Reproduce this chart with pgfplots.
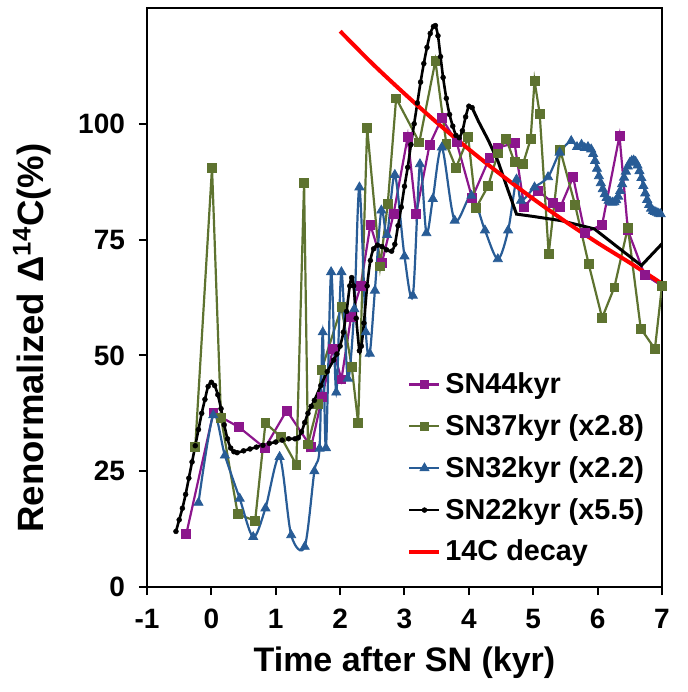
\documentclass[border=0pt]{standalone}
\usepackage{fontspec}
\setmainfont{Liberation Sans}
\usepackage{pgfplots}
\pgfplotsset{compat=1.18}
\definecolor{cpur}{RGB}{140,22,140}
\definecolor{cgrn}{RGB}{94,115,48}
\definecolor{cblu}{RGB}{40,92,150}
\begin{document}
\begin{tikzpicture}
\begin{axis}[
 scale only axis, width=257.5pt, height=289.5pt,
 xmin=-1, xmax=7, ymin=0, ymax=125,
 xtick={-1,0,1,2,3,4,5,6,7}, ytick={0,25,50,75,100},
 tick align=outside, tick pos=left,
 major tick length=4pt,
 axis line style={line width=1pt},
 every tick/.style={black, line width=1pt},
 /pgf/number format/assume math mode=true,
 ticklabel style={font=\bfseries\fontsize{14}{14}\selectfont},
 xticklabel style={yshift=-3.5pt},
 yticklabel style={xshift=-3.5pt},
 xlabel={Time after SN (kyr)},
 ylabel={Renormalized Δ\textsuperscript{14}C(\%)},
 every axis x label/.style={at={(axis description cs:0.5,-0.13)},anchor=center,font=\bfseries\fontsize{17}{17}\selectfont},
 every axis y label/.style={at={(axis description cs:-0.2233,0.43)},rotate=90,anchor=center,font=\bfseries\fontsize{18.3}{18.3}\selectfont},
 legend style={at={(axis description cs:0.505,0.378)}, anchor=north west, draw=none, fill=none,
   font=\bfseries\fontsize{14.4}{17}\selectfont, nodes={font=\bfseries\fontsize{14.4}{17}\selectfont}, row sep=5pt, inner sep=0pt},
 legend cell align=left,
 legend image code/.code={\draw[mark repeat=2,mark phase=2,#1] plot coordinates {(0pt,0pt) (7.5pt,0pt) (15pt,0pt)};},
]
% SN44kyr
\addplot[cpur, line width=1.1pt, mark=square*, mark size=2.2pt, mark options={solid,fill=cpur,line width=0.4pt}] coordinates {
(-0.39,11.4) (0.03,37.6) (0.43,34.5) (0.83,30.0) (1.17,38.1) (1.55,30.2) (1.72,41) (1.89,51.4) (2.02,44.8) (2.17,58.3) (2.32,65) (2.47,78.2) (2.65,70) (2.83,80.5) (3.05,97.2) (3.18,80.5) (3.39,95.5) (3.58,101.2) (3.81,96) (4.05,84) (4.32,92.6) (4.45,94.9) (4.71,95.8) (4.86,82) (5.07,85.6) (5.30,83) (5.42,82) (5.62,88.5) (5.80,76.5) (6.07,78.2) (6.34,97.4) (6.47,77) (6.73,67.4) (7.0,65)
};
\addlegendentry{\textbf{SN44kyr}}
% SN37kyr
\addplot[cgrn, line width=1.1pt, mark=square*, mark size=2.2pt, mark options={solid,fill=cgrn,line width=0.4pt}] coordinates {
(-0.25,30.3) (0.01,90.5) (0.15,36.5) (0.41,15.7) (0.68,14.3) (0.84,35.4) (1.08,32.4) (1.32,26.4) (1.44,87.2) (1.50,30.8) (1.66,39.6) (1.71,46.8) (2.02,60.4) (2.18,47.6) (2.28,35.4) (2.42,99.1) (2.62,69.2) (2.74,82.7) (2.87,105.5) (3.23,96) (3.48,113.6) (3.65,95.6) (3.80,90.5) (3.99,97.1) (4.11,81.8) (4.30,86.6) (4.45,93.6) (4.58,96.7) (4.71,91.7) (4.84,91.3) (4.96,96.7) (5.02,109.3) (5.10,102.2) (5.24,71.9) (5.42,94.3) (5.65,82.5) (5.86,69.8) (6.07,58.1) (6.26,64.7) (6.47,77.6) (6.67,55.8) (6.89,51.4) (7.0,65)
};
\addlegendentry{\textbf{SN37kyr (x2.8)}}
% SN32kyr
\addplot[cblu, line width=1.1pt, smooth, tension=0.5, mark=triangle*, mark size=2.6pt, mark options={solid,fill=cblu,line width=0.4pt}] coordinates {
(-0.20,18.2) (0.03,37.1) (0.21,28.4) (0.44,19.1) (0.65,10.8) (0.84,17) (1.06,28.1) (1.24,11.2) (1.45,8.7) (1.60,25) (1.68,29.9) (1.73,55) (1.78,30) (1.86,68) (1.94,42) (2.02,68) (2.12,45) (2.22,60) (2.30,86.3) (2.40,55) (2.46,50.4) (2.54,64) (2.64,81.3) (2.73,76) (2.85,89) (3.00,71.4) (3.13,62.9) (3.24,91.3) (3.34,76.4) (3.44,83.8) (3.58,94.9) (3.78,79.1) (4.04,84.5) (4.25,77) (4.45,70.8) (4.61,77) (4.74,88) (4.81,83.4) (5.02,86.3) (5.23,88.5) (5.41,93.8) (5.59,96.3) (5.68,95.0) (5.75,95.5) (5.80,94.8) (5.85,95.0) (5.90,94.5) (5.93,93.5) (5.96,92) (5.99,90.3) (6.02,88.7) (6.05,87.2) (6.08,85.9) (6.11,84.8) (6.14,84) (6.17,83.4) (6.20,83.1) (6.23,83) (6.26,83.1) (6.29,83.5) (6.32,84.3) (6.35,85.5) (6.38,87) (6.41,88.4) (6.44,89.7) (6.47,90.8) (6.50,91.6) (6.53,92) (6.56,92.1) (6.59,91.8) (6.62,91) (6.65,89.8) (6.68,88.3) (6.71,86.6) (6.74,85) (6.77,83.6) (6.80,82.5) (6.83,81.7) (6.86,81.2) (6.89,81) (6.92,80.8) (6.95,80.6) (6.98,80.5)
};
\addlegendentry{\textbf{SN32kyr (x2.2)}}
% SN22kyr
\addplot[black, line width=1.3pt, smooth, tension=0.5, mark=*, mark size=1.25pt, mark options={solid,fill=black,line width=0.2pt}] coordinates {
(-0.55,12) (-0.50,14.5) (-0.45,17) (-0.40,20) (-0.35,23.5) (-0.30,27) (-0.25,30.5) (-0.20,34) (-0.15,37.5) (-0.10,40.5) (-0.05,43.3) (0.00,44.2) (0.05,43.5) (0.10,41.5) (0.15,38.5) (0.20,35) (0.25,32) (0.30,30) (0.35,29.2) (0.40,29) (0.50,29.4) (0.60,29.8) (0.70,30.2) (0.80,30.6) (0.90,31) (1.00,31.3) (1.10,31.7) (1.20,32) (1.30,32) (1.35,32.2) (1.40,33.5) (1.45,35.5) (1.50,37.5) (1.55,39) (1.60,40.3) (1.70,43.5) (1.80,46.5) (1.90,49) (1.95,50.3) (2.00,52) (2.05,55) (2.10,59.5) (2.15,65) (2.18,66.8) (2.21,65) (2.25,58) (2.30,51) (2.33,52) (2.37,57) (2.42,65) (2.47,70.5) (2.52,73) (2.58,73.8) (2.65,73.5) (2.72,72.8) (2.80,72.5) (2.85,74) (2.90,78) (2.95,82) (3.00,86.5) (3.05,90.6) (3.10,95.5) (3.15,100) (3.20,104.5) (3.25,109) (3.30,113) (3.35,116.5) (3.40,119.5) (3.45,121) (3.48,121.2) (3.52,119) (3.56,114.5) (3.60,110) (3.65,105.5) (3.70,102) (3.75,99.5) (3.80,97.5) (3.85,97) (3.90,98.5) (3.95,101.5) (4.00,103.8) (4.05,103.5)
};
\addlegendentry{\textbf{SN22kyr (x5.5)}}
\addplot[black, line width=1.5pt, forget plot] coordinates {
(4.05,103.5) (4.15,100.5) (4.30,96.5) (4.45,92) (4.60,86) (4.74,80.5) (5.0,80) (5.43,79.1) (5.95,77.3) (6.3,73.5) (6.68,69.4) (7.0,74.1)
};
% 14C decay
\addplot[red, line width=2pt, smooth] coordinates {
(2.0,120) (2.5,113) (3.0,106.5) (3.5,100.3) (4.0,94.5) (4.5,89) (5.0,83.8) (5.5,78.9) (6.0,74.3) (6.5,70) (7.0,65.5)
};
\addlegendentry{\textbf{14C decay}}
\end{axis}
\path (current axis.south west) ++(-73.5pt,-52.5pt) rectangle ++(344pt,346pt);
\end{tikzpicture}
\end{document}
